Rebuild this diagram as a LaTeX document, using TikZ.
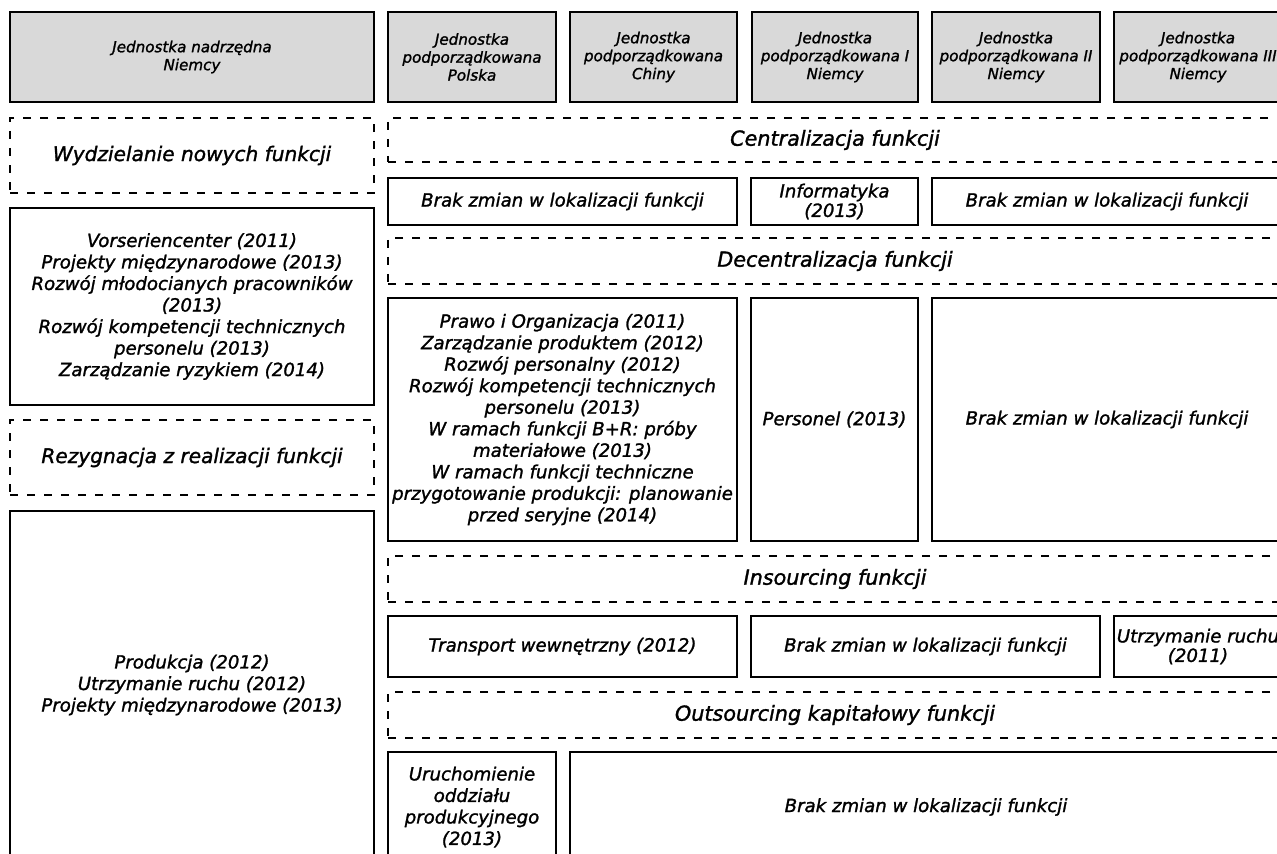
\documentclass[tikz,border=0pt]{standalone}
\usepackage{fontspec}
\setmainfont{DejaVu Sans}[ItalicFeatures={FakeBold=1.4}]
\definecolor{headgray}{HTML}{D9D9D9}
\newcommand{\fsmall}{\fontsize{15.2}{18}\selectfont\itshape}
\newcommand{\fbody}{\fontsize{18.2}{21.6}\selectfont\itshape}
\newcommand{\ftight}{\fontsize{18.2}{19.5}\selectfont\itshape}
\newcommand{\fheadL}{\fontsize{20.2}{24}\selectfont\itshape}
\newcommand{\fheadR}{\fontsize{20.8}{24}\selectfont\itshape}
\begin{document}
\begin{tikzpicture}[x=1bp,y=-1bp,
  solidbox/.style={draw=black,line width=2.6bp,inner sep=0pt,outer sep=0pt,align=center,anchor=north west,font=\fbody},
  grayhead/.style={solidbox,fill=headgray,font=\fsmall},
  dashbox/.style={draw=black,line width=2.4bp,dash pattern=on 8bp off 9bp,inner sep=0pt,outer sep=0pt,align=center,anchor=north west,font=\fheadR},
  dashboxL/.style={dashbox,font=\fheadL}]
\useasboundingbox (0,0) rectangle (1277,854);
\clip (0,0) rectangle (1277,854);
\fill[white] (0,0) rectangle (1277,854);

% header row
\node[grayhead,minimum width=364bp,minimum height=90bp] (g0) at (10,12) {Jednostka nadrzędna\\Niemcy};
\node[grayhead,minimum width=168bp,minimum height=90bp] (g1) at (388,12) {Jednostka\\podporządkowana\\Polska};
\node[grayhead,minimum width=167bp,minimum height=90bp] (g2) at (570,12) {Jednostka\\podporządkowana\\Chiny};
\node[grayhead,minimum width=166bp,minimum height=90bp] (g3) at (752,12) {Jednostka\\podporządkowana I\\Niemcy};
\node[grayhead,minimum width=168bp,minimum height=90bp] (g4) at (932,12) {Jednostka\\podporządkowana II\\Niemcy};
\node[grayhead,minimum width=168bp,minimum height=90bp] (g5) at (1114,12) {Jednostka\\podporządkowana III\\Niemcy};

% left column
\node[dashboxL,minimum width=364bp,minimum height=75bp] (dWyd) at (10,118) {Wydzielanie nowych funkcji};
\node[solidbox,minimum width=364bp,minimum height=197bp] (bVor) at (10,208) {Vorseriencenter (2011)\\Projekty międzynarodowe (2013)\\Rozwój młodocianych pracowników\\(2013)\\Rozwój kompetencji technicznych\\personelu (2013)\\Zarządzanie ryzykiem (2014)};
\node[dashboxL,minimum width=364bp,minimum height=75bp] (dRez) at (10,420) {Rezygnacja z realizacji funkcji};
\node[solidbox,minimum width=364bp,minimum height=348bp] (bProd) at (10,511) {Produkcja (2012)\\Utrzymanie ruchu (2012)\\Projekty międzynarodowe (2013)};

% centralizacja
\node[dashbox,minimum width=894bp,minimum height=44bp] (dCen) at (388,118) {Centralizacja funkcji};
\node[solidbox,minimum width=349bp,minimum height=47bp] (r1a) at (388,178) {Brak zmian w lokalizacji funkcji};
\node[solidbox,font=\ftight,minimum width=167bp,minimum height=47bp] (r1b) at (751,178) {Informatyka\\(2013)};
\node[solidbox,minimum width=350bp,minimum height=47bp] (r1c) at (932,178) {Brak zmian w lokalizacji funkcji};

% decentralizacja
\node[dashbox,minimum width=894bp,minimum height=46bp] (dDec) at (388,238) {Decentralizacja funkcji};
\node[solidbox,minimum width=349bp,minimum height=243bp] (r2a) at (388,298) {Prawo i Organizacja (2011)\\Zarządzanie produktem (2012)\\Rozwój personalny (2012)\\Rozwój kompetencji technicznych\\personelu (2013)\\W ramach funkcji B+R: próby\\materiałowe (2013)\\W ramach funkcji techniczne\\przygotowanie produkcji: planowanie\\przed seryjne (2014)};
\node[solidbox,minimum width=167bp,minimum height=243bp] (r2b) at (751,298) {Personel (2013)};
\node[solidbox,minimum width=350bp,minimum height=243bp] (r2c) at (932,298) {Brak zmian w lokalizacji funkcji};

% insourcing
\node[dashbox,minimum width=894bp,minimum height=46bp] (dIns) at (388,556) {Insourcing funkcji};
\node[solidbox,minimum width=349bp,minimum height=61bp] (r3a) at (388,616) {Transport wewnętrzny (2012)};
\node[solidbox,minimum width=349bp,minimum height=61bp] (r3b) at (751,616) {Brak zmian w lokalizacji funkcji};
\node[solidbox,font=\ftight,minimum width=168bp,minimum height=61bp] (r3c) at (1114,616) {Utrzymanie ruchu\\(2011)};

% outsourcing
\node[dashbox,minimum width=894bp,minimum height=46bp] (dOut) at (388,692) {Outsourcing kapitałowy funkcji};
\node[solidbox,minimum width=168bp,minimum height=110bp] (r4a) at (388,752) {Uruchomienie\\oddziału\\produkcyjnego\\(2013)};
\node[solidbox,minimum width=712bp,minimum height=110bp] (r4b) at (570,752) {Brak zmian w lokalizacji funkcji};
\end{tikzpicture}
\end{document}
